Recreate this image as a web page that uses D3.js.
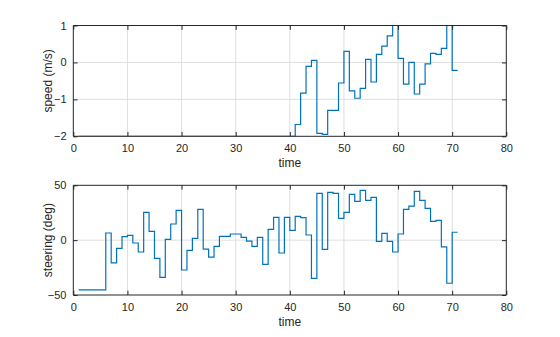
<!DOCTYPE html>
<html><head><meta charset="utf-8">
<script src="https://cdn.jsdelivr.net/npm/d3@7"></script>
<style>body{margin:0;background:#fff}svg{display:block}</style>
</head><body>
<script>
const time = [1,2,3,4,5,6,7,8,9,10,11,12,13,14,15,16,17,18,19,20,21,22,23,24,25,26,27,28,29,30,
  31,32,33,34,35,36,37,38,39,40,41,42,43,44,45,46,47,48,49,50,51,52,53,54,55,56,57,58,59,60,
  61,62,63,64,65,66,67,68,69,70,71];
const speed = [-2,-2,-2,-2,-2,-2,-2,-2,-2,-2,-2,-2,-2,-2,-2,-2,-2,-2,-2,-2,
  -2,-2,-2,-2,-2,-2,-2,-2,-2,-2,-2,-2,-2,-2,-2,-2,-2,-2,-2,-2,
  -1.68,-0.83,-0.105,0.057,-1.92,-1.95,-1.30,-1.30,-0.557,0.30,
  -0.77,-0.97,-0.70,0.085,-0.53,0.22,0.44,0.72,1.3,0.11,
  -0.585,0.0,-0.855,-0.585,-0.04,0.247,0.22,0.38,1.3,-0.215,-0.215];
const steering = [-45.4,-45.4,-45.4,-45.4,-45.4,6.5,-20.8,-7.5,3.2,4.4,
  -2.6,-10.8,25.4,8.0,-16.6,-33.9,0.75,14.7,27.2,-27.2,
  -9.3,1.7,28.1,-8.1,-15.4,-5.6,3.5,3.5,5.6,5.6,
  2.6,-0.8,-5.6,2.6,-22,9.9,20.8,-11.7,20.8,9.0,
  21.7,20.5,4.7,-34.8,42.7,-8.4,43.6,42.7,19.9,25.4,
  41.8,35.4,45.4,36.3,39.0,-1.1,6.2,-1.1,-10.8,5.6,
  28.1,31.1,44.5,36.3,29.0,17.2,18.1,-6.2,-39.3,7.2,7.2];
const xTicks = [0,10,20,30,40,50,60,70,80];
const speedTicks = [-2,-1,0,1];
const steerTicks = [-50,0,50];

const W = 560, H = 337;
const svg = d3.select("body").append("svg").attr("width", W).attr("height", H)
  .style("font-family", "'Liberation Sans', Arial, Helvetica, sans-serif");

function panel(id, top, bottom, ydom, yticks, values, ylabel) {
  const left = 73.3, right = 506.3;
  const x = d3.scaleLinear().domain([0, 80]).range([left, right]);
  const y = d3.scaleLinear().domain(ydom).range([bottom, top]);
  const g = svg.append("g");
  g.append("rect").attr("x", left).attr("y", top).attr("width", right - left).attr("height", bottom - top).attr("fill", "#fff");
  g.append("g").selectAll("line").data(xTicks.slice(1, -1)).join("line")
    .attr("x1", d => x(d)).attr("x2", d => x(d)).attr("y1", top).attr("y2", bottom)
    .attr("stroke", "#dfdfdf").attr("stroke-width", 1);
  g.append("g").selectAll("line").data(yticks.slice(1, -1)).join("line")
    .attr("y1", d => y(d)).attr("y2", d => y(d)).attr("x1", left).attr("x2", right)
    .attr("stroke", "#dfdfdf").attr("stroke-width", 1);
  svg.append("clipPath").attr("id", id).append("rect")
    .attr("x", left).attr("y", top).attr("width", right - left).attr("height", bottom - top);
  const line = d3.line().x((d, i) => x(time[i])).y(d => y(d)).curve(d3.curveStepAfter);
  g.append("path").attr("d", line(values)).attr("clip-path", `url(#${id})`)
    .attr("fill", "none").attr("stroke", "#0072BD").attr("stroke-width", 1.2);
  const tl = 4.3;
  const xa = g.append("g").attr("transform", `translate(0,${bottom})`)
    .call(d3.axisBottom(x).tickValues(xTicks).tickSize(-tl).tickPadding(4 + tl).tickFormat(d3.format("d")));
  const xa2 = g.append("g").attr("transform", `translate(0,${top})`)
    .call(d3.axisTop(x).tickValues(xTicks).tickSize(-tl).tickFormat(""));
  const ya = g.append("g").attr("transform", `translate(${left},0)`)
    .call(d3.axisLeft(y).tickValues(yticks).tickSize(-tl).tickPadding(2.5 + tl).tickFormat(d3.format("d")));
  const ya2 = g.append("g").attr("transform", `translate(${right},0)`)
    .call(d3.axisRight(y).tickValues(yticks).tickSize(-tl).tickFormat(""));
  [xa, xa2, ya, ya2].forEach(a => {
    a.select(".domain").attr("stroke", "#262626").attr("stroke-width", 1).attr("d",
      a === xa || a === xa2 ? `M${left},0H${right}` : `M0,${top}V${bottom}`);
    a.selectAll(".tick line").attr("stroke", "#262626");
    a.selectAll("text").attr("fill", "#262626").style("font-size", "11px").style("font-family", "inherit");
  });
  g.append("text").attr("x", (left + right) / 2).attr("y", bottom + 30.5)
    .attr("text-anchor", "middle").attr("fill", "#262626").style("font-size", "12px").text("time");
  g.append("text").attr("transform", `translate(${left - 21},${(top + bottom) / 2}) rotate(-90)`)
    .attr("text-anchor", "middle").attr("fill", "#262626").style("font-size", "12px").text(ylabel);
}

panel("c1", 25.5, 136.3, [-2, 1], speedTicks, speed, "speed (m/s)");
panel("c2", 185.3, 295, [-50, 50], steerTicks, steering, "steering (deg)");
</script>
</body></html>
